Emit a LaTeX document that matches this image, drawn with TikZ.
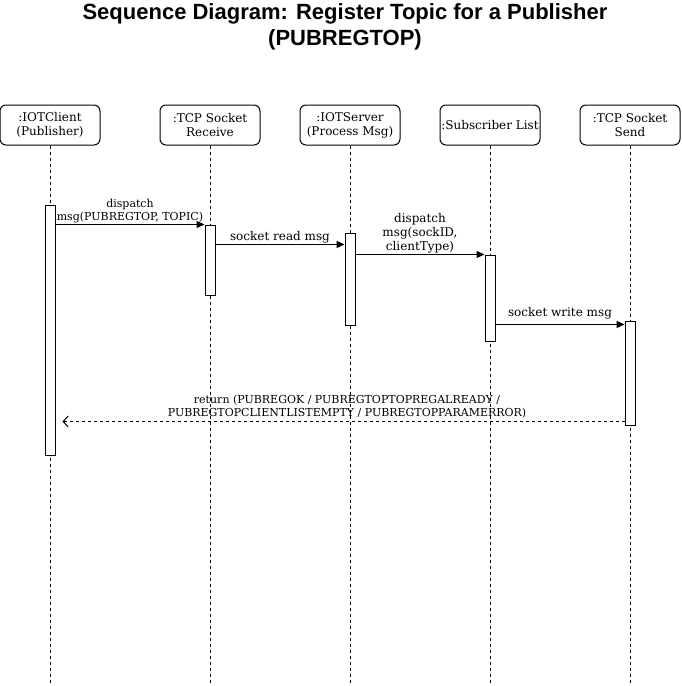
\documentclass[tikz,border=0pt]{standalone}
\usepackage{fontspec}
\setmainfont{DejaVu Serif}
\newfontfamily\titlefont{Liberation Sans}
\usetikzlibrary{arrows.meta,calc}
\tikzset{
  actor/.style={draw, rounded corners=6pt, minimum width=100pt, minimum height=40pt, align=center, inner sep=1pt, line width=1pt, font=\fontsize{12}{14}\selectfont},
  life/.style={draw, line width=1pt, dash pattern=on 3pt off 3pt},
  act/.style={draw, fill=white, minimum width=10pt, inner sep=0pt, line width=1pt},
  msg/.style={draw, line width=1pt, -{Triangle[length=8pt,width=7pt]}},
  ret/.style={draw, line width=1pt, dash pattern=on 3pt off 3pt, -{Straight Barb[length=5pt,width=11pt,line width=1pt]}},
  lbl/.style={align=center, inner sep=1pt, font=\fontsize{12}{14}\selectfont},
  slbl/.style={align=center, inner sep=1pt, font=\fontsize{11}{13}\selectfont},
}
\begin{document}
\begin{tikzpicture}[x=1pt,y=-1pt]
\useasboundingbox (0,0) rectangle (681,686);
\node[font=\titlefont\bfseries\fontsize{22}{26}\selectfont, align=center] (title) at (345,27) {Sequence Diagram: Register Topic for a Publisher\\(PUBREGTOP)};

\node[actor] (a1) at (50,125) {:IOTClient\\(Publisher)};
\node[actor] (a2) at (210,125) {:TCP Socket\\Receive};
\node[actor] (a3) at (350,125) {:IOTServer\\(Process Msg)};
\node[actor] (a4) at (490,125) {:Subscriber List};
\node[actor] (a5) at (630,125) {:TCP Socket\\Send};

\coordinate (e1) at (50,686);
\coordinate (e2) at (210,686);
\coordinate (e3) at (350,686);
\coordinate (e4) at (490,686);
\coordinate (e5) at (630,686);
\draw[life] (a1.south) -- (e1);
\draw[life] (a2.south) -- (e2);
\draw[life] (a3.south) -- (e3);
\draw[life] (a4.south) -- (e4);
\draw[life] (a5.south) -- (e5);

\node[act, minimum height=250pt] (b1) at (50,330) {};
\node[act, minimum height=70pt] (b2) at (210,260) {};
\node[act, minimum height=92pt] (b3) at (350,279) {};
\node[act, minimum height=86pt] (b4) at (490,298) {};
\node[act, minimum height=104pt] (b5) at (630,373) {};

\draw[msg] (b1.east |- b2.north) -- node[slbl, above] {dispatch\\msg(PUBREGTOP, TOPIC)} (b2.north west);
\coordinate (m2s) at ($(b2.north east)+(0,20)$);
\draw[msg] (m2s) -- node[lbl, above] {socket read msg} (b3.west |- m2s);
\draw[msg] (b3.east |- b4.north) -- node[lbl, above] {dispatch\\msg(sockID,\\clientType)} (b4.north west);
\coordinate (m4e) at ($(b5.north west)+(0,4)$);
\draw[msg] (m4e -| b4.east) -- node[lbl, above, yshift=4pt] {socket write msg} (m4e);
\coordinate (r1) at ($(b5.south west)+(0,-4)$);
\draw[ret, shorten >=7pt] (r1) -- node[slbl, above, yshift=2pt, xshift=7pt] {return (PUBREGOK / PUBREGTOPTOPREGALREADY /\\PUBREGTOPCLIENTLISTEMPTY / PUBREGTOPPARAMERROR)} (r1 -| b1.east);
\end{tikzpicture}
\end{document}
